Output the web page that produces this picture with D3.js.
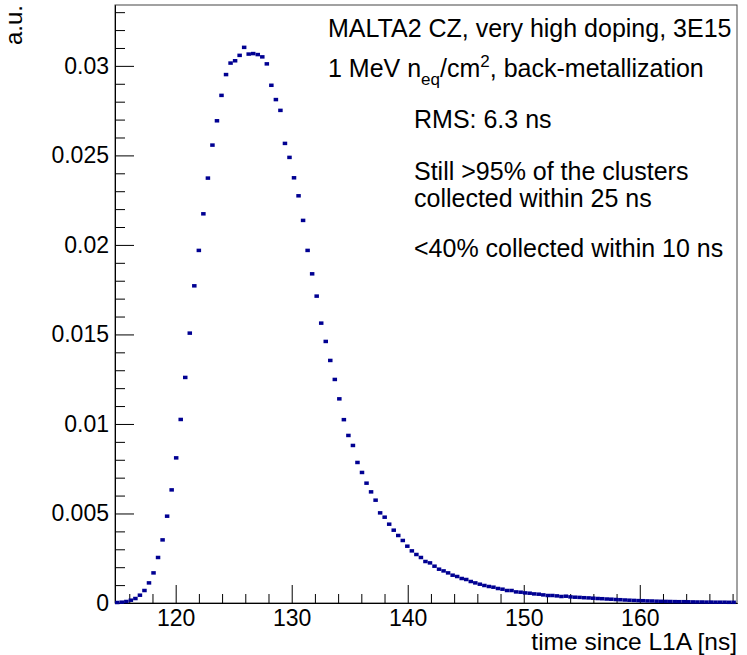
<!DOCTYPE html>
<html>
<meta charset="utf-8">
<style>
  body { margin: 0; background: #fff; }
  text { font-family: "Liberation Sans", Arial, Helvetica, sans-serif; fill: #000; }
  .axis text { font-size: 23px; }
  .axis path, .axis line { stroke: #000; }
  .note { font-size: 25px; }
</style>
<script src="https://d3js.org/d3.v7.min.js"></script>
<body>
<script>
// histogram binning (ns): MALTA 3.125 ns / 8 phases
var binStart = 114.77;
var binWidth = 0.390625;

// bin contents (a.u.)
var counts = [
  0.000028, 0.000045, 0.000084, 0.000156, 0.000251, 0.000436, 0.000698, 0.001123, 0.001682, 0.002542,
  0.003525, 0.004849, 0.006318, 0.008106, 0.010251, 0.012598, 0.015073, 0.017715, 0.019693, 0.021737,
  0.023732, 0.025575, 0.026933, 0.028352, 0.029514, 0.030156, 0.030285, 0.030587, 0.031034, 0.030659,
  0.030687, 0.030631, 0.030503, 0.030112, 0.028916, 0.028117, 0.027514, 0.025670, 0.024888, 0.023749,
  0.022743, 0.021369, 0.019693, 0.018385, 0.017140, 0.015631, 0.014609, 0.013547, 0.012486, 0.011402,
  0.010240, 0.009358, 0.008799, 0.007849, 0.007291, 0.006693, 0.006207, 0.005743, 0.005034, 0.004793,
  0.004402, 0.004067, 0.003771, 0.003492, 0.003173, 0.002911, 0.002709, 0.002542, 0.002318, 0.002240,
  0.002056, 0.001888, 0.001793, 0.001682, 0.001553, 0.001480, 0.001369, 0.001313, 0.001201, 0.001123,
  0.001050, 0.000978, 0.000922, 0.000883, 0.000810, 0.000771, 0.000698, 0.000698, 0.000620, 0.000603,
  0.000564, 0.000547, 0.000508, 0.000492, 0.000453, 0.000419, 0.000419, 0.000397, 0.000363, 0.000380,
  0.000341, 0.000324, 0.000313, 0.000296, 0.000285, 0.000268, 0.000251, 0.000240, 0.000223, 0.000212,
  0.000196, 0.000184, 0.000168, 0.000156, 0.000145, 0.000134, 0.000128, 0.000117, 0.000112, 0.000101,
  0.000095, 0.000089, 0.000084, 0.000078, 0.000073, 0.000073, 0.000067, 0.000061, 0.000056, 0.000056,
  0.000050, 0.000050, 0.000045, 0.000045, 0.000045, 0.000039, 0.000039
];

var xTicks = [120, 130, 140, 150, 160];
var xTickLabels = ["120", "130", "140", "150", "160"];
var yTicks = [0, 0.005, 0.01, 0.015, 0.02, 0.025, 0.03];
var yTickLabels = ["0", "0.005", "0.01", "0.015", "0.02", "0.025", "0.03"];

var xTitle = "time since L1A [ns]";
var yTitle = "a.u.";

var svgWidth = 747, svgHeight = 655;
var padL = 115, padR = 737, padT = 5, padB = 603;

var svg = d3.select("body").append("svg")
  .attr("width", svgWidth)
  .attr("height", svgHeight);

var x = d3.scaleLinear().domain([114.77, 168.38]).range([padL, padR]);
var y = d3.scaleLinear().domain([0, 0.0334]).range([padB, padT]);

// frame
svg.append("rect")
  .attr("x", padL).attr("y", padT)
  .attr("width", padR - padL).attr("height", padB - padT)
  .attr("fill", "none").attr("stroke", "#444").attr("stroke-width", 1);

// minor ticks
var xMinor = d3.range(116, 169, 2).filter(function(d){ return d % 10 != 0; });
svg.append("g").attr("class", "axis")
  .attr("transform", "translate(0," + padB + ")")
  .call(d3.axisBottom(x).tickValues(xMinor).tickSize(-9).tickSizeOuter(0).tickFormat(""));

var yMinor = d3.range(1, 34).filter(function(d){ return d % 5 != 0; }).map(function(d){ return d / 1000; });
svg.append("g").attr("class", "axis")
  .attr("transform", "translate(" + padL + ",0)")
  .call(d3.axisLeft(y).tickValues(yMinor).tickSize(-10).tickSizeOuter(0).tickFormat(""));

// major ticks + labels
svg.append("g").attr("class", "axis")
  .attr("transform", "translate(0," + padB + ")")
  .call(d3.axisBottom(x).tickValues(xTicks).tickSize(-18).tickSizeOuter(0).tickPadding(7)
    .tickFormat(function(d, i){ return xTickLabels[i]; }));

svg.append("g").attr("class", "axis")
  .attr("transform", "translate(" + padL + ",0)")
  .call(d3.axisLeft(y).tickValues(yTicks).tickSize(-19).tickSizeOuter(0).tickPadding(6)
    .tickFormat(function(d, i){ return yTickLabels[i]; }));

svg.selectAll(".axis").attr("font-family", null).attr("font-size", null);

// axis titles
svg.append("text")
  .attr("x", padR).attr("y", 650)
  .attr("text-anchor", "end")
  .style("font-size", "24.5px")
  .text(xTitle);

svg.append("text")
  .attr("transform", "translate(22," + padT + ") rotate(-90)")
  .attr("text-anchor", "end")
  .style("font-size", "24px")
  .text(yTitle);

// markers
svg.append("g").selectAll("rect")
  .data(counts)
  .enter()
  .append("rect")
  .attr("x", function(d, i){ return x(binStart + (i + 0.5) * binWidth) - 2.25; })
  .attr("y", function(d){ return y(d) - 1.75; })
  .attr("width", 4.5)
  .attr("height", 3.5)
  .attr("fill", "#000092");

// notes
var t1 = svg.append("text").attr("class", "note").attr("x", 328).attr("y", 37);
t1.text("MALTA2 CZ, very high doping, 3E15");

var t2 = svg.append("text").attr("class", "note").attr("x", 328).attr("y", 77);
t2.append("tspan").text("1 MeV n");
t2.append("tspan").attr("dy", 8).style("font-size", "17px").text("eq");
t2.append("tspan").attr("dy", -8).text("/cm");
t2.append("tspan").attr("dy", -10).style("font-size", "17px").text("2");
t2.append("tspan").attr("dy", 10).text(", back-metallization");

svg.append("text").attr("class", "note").attr("x", 414).attr("y", 128).text("RMS: 6.3 ns");
svg.append("text").attr("class", "note").attr("x", 414).attr("y", 180).text("Still >95% of the clusters");
svg.append("text").attr("class", "note").attr("x", 414).attr("y", 207).text("collected within 25 ns");
svg.append("text").attr("class", "note").attr("x", 414).attr("y", 257).text("<40% collected within 10 ns");
</script>
</body>
</html>
